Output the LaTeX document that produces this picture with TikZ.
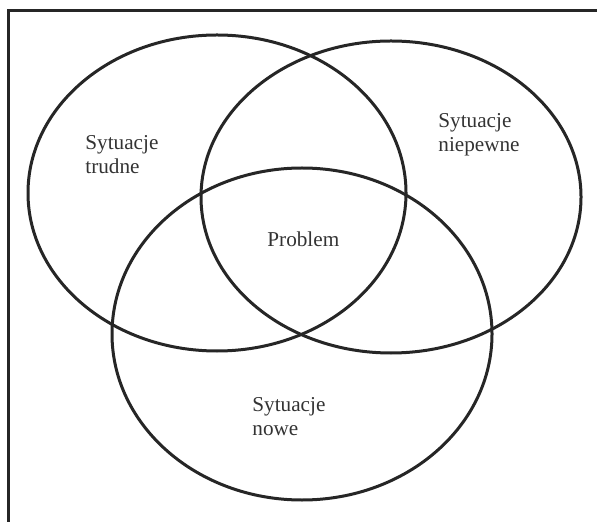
\documentclass[tikz,border=0pt]{standalone}
\usepackage{fontspec}
\setmainfont{Liberation Serif}
\begin{document}
\begin{tikzpicture}[x=0.5pt,y=-0.5pt,
  ring/.style={draw=black!85,line width=1.5pt},
  frameline/.style={draw=black!85,line width=1.5pt},
  label/.style={inner sep=0pt,align=left,anchor=north west,text=black!80,
    font=\fontsize{10.6}{11.8}\selectfont}]
\useasboundingbox (0,0) rectangle (597,522);
% open frame: left and top edges
\draw[frameline] (8,522) -- (8,11) -- (597,11);
% the three overlapping ellipses
\draw[ring] (217,193) ellipse [x radius=189, y radius=158];
\draw[ring] (391,197) ellipse [x radius=190, y radius=156];
\draw[ring] (302,334) ellipse [x radius=190, y radius=166];
% labels
\node[label] (trudne) at (85,135) {Sytuacje\\trudne};
\node[label] (niepewne) at (438,113) {Sytuacje\\niepewne};
\node[label] (problem) at (267,231) {Problem};
\node[label] (nowe) at (252,397) {Sytuacje\\nowe};
\end{tikzpicture}
\end{document}
